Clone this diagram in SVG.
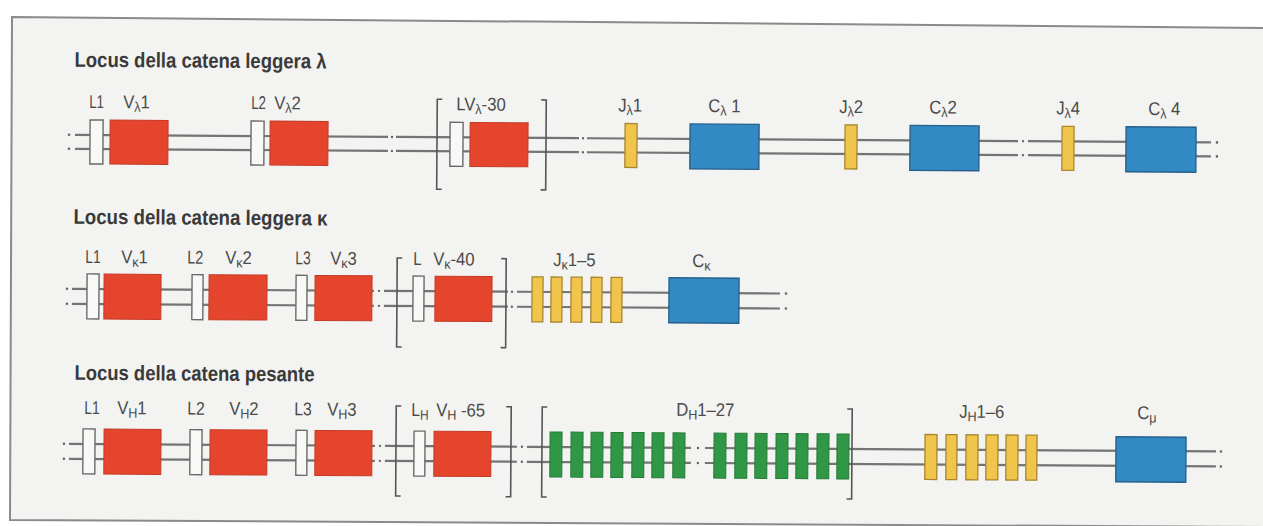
<svg xmlns="http://www.w3.org/2000/svg" width="1263" height="526" viewBox="0 0 1263 526">
<style>
.ln{stroke:#747474;stroke-width:2.2;fill:none}
.dt{fill:#666}
.w{fill:#f8f8f6;stroke:#6a6a6a;stroke-width:1.4}
.r{fill:#e6452d;stroke:#c43a26;stroke-width:1}
.b{fill:#3389c4;stroke:#25618c;stroke-width:1.4}
.y{fill:#f1c44b;stroke:#a8872f;stroke-width:1.3}
.g{fill:#2f9745;stroke:#267a38;stroke-width:1}
.br{stroke:#555;stroke-width:1.6;fill:none}
.lab{font-family:"Liberation Sans",Arial,sans-serif;font-size:18.5px;fill:#4a4a4a}
.sub{font-size:14px}
.ttl{font-family:"Liberation Sans",Arial,sans-serif;font-weight:bold;font-size:21px;fill:#3a3a3a}
</style>
<rect x="0" y="0" width="1263" height="526" fill="#ffffff"/>
<path d="M12,17 L1263,28 L1263,527 L10,520 Z" fill="#f3f3f1" stroke="none"/>
<path d="M1263,28 L12,17 L10,520 L1263,527" fill="none" stroke="#8a8a8a" stroke-width="2"/>
<g transform="rotate(0.38 100 290)">
<g id="titles">
<text class="ttl" x="73" y="67" textLength="252" lengthAdjust="spacingAndGlyphs">Locus della catena leggera λ</text>
<text class="ttl" x="73" y="224" textLength="254" lengthAdjust="spacingAndGlyphs">Locus della catena leggera κ</text>
<text class="ttl" x="75" y="380" textLength="240" lengthAdjust="spacingAndGlyphs">Locus della catena pesante</text>
</g>
<g id="connectors">
<path class="ln" d="M74,135H387M395,135H578M586,135H1017M1027,135H1210M74,149H387M395,149H578M586,149H1017M1027,149H1210"/>
<path class="ln" d="M72,289H374M384,289H508M517,289H780M72,304H374M384,304H508M517,304H780"/>
<path class="ln" d="M70,444H376M386,444H518M528,444H692M706,444H1217M70,459H376M386,459H518M528,459H692M706,459H1217"/>
<g class="dt">
<circle cx="68" cy="135" r="1.3"/><circle cx="68" cy="149" r="1.3"/>
<circle cx="391" cy="135" r="1.2"/><circle cx="391" cy="149" r="1.2"/>
<circle cx="582" cy="135" r="1.2"/><circle cx="582" cy="149" r="1.2"/>
<circle cx="1022" cy="135" r="1.2"/><circle cx="1022" cy="149" r="1.2"/>
<circle cx="1216" cy="135" r="1.3"/><circle cx="1216" cy="149" r="1.3"/>
<circle cx="67" cy="289" r="1.3"/><circle cx="67" cy="304" r="1.3"/>
<circle cx="379" cy="289" r="1.2"/><circle cx="379" cy="304" r="1.2"/>
<circle cx="512" cy="289" r="1.2"/><circle cx="512" cy="304" r="1.2"/>
<circle cx="786" cy="289" r="1.3"/><circle cx="786" cy="304" r="1.3"/>
<circle cx="65" cy="444" r="1.3"/><circle cx="65" cy="459" r="1.3"/>
<circle cx="381" cy="444" r="1.2"/><circle cx="381" cy="459" r="1.2"/>
<circle cx="523" cy="444" r="1.2"/><circle cx="523" cy="459" r="1.2"/>
<circle cx="699" cy="444" r="1.2"/><circle cx="699" cy="459" r="1.2"/>
<circle cx="1222" cy="444" r="1.3"/><circle cx="1222" cy="459" r="1.3"/>
</g>
</g>
<g id="lambda-locus">
<g id="l-L1"><rect class="w" x="89" y="120" width="13" height="44"/><text class="lab" transform="translate(88,108) scale(0.72,1)">L1</text></g>
<g id="l-V1"><rect class="r" x="109" y="120" width="58" height="44"/><text class="lab" transform="translate(122,108) scale(0.9,1)">V<tspan class="sub" dy="3.5">λ</tspan><tspan dy="-3.5">1</tspan></text></g>
<g id="l-L2"><rect class="w" x="250" y="120" width="13" height="44"/><text class="lab" transform="translate(250,108) scale(0.72,1)">L2</text></g>
<g id="l-V2"><rect class="r" x="269" y="120" width="58" height="44"/><text class="lab" transform="translate(273,108) scale(0.9,1)">V<tspan class="sub" dy="3.5">λ</tspan><tspan dy="-3.5">2</tspan></text></g>
<g id="l-V30"><path class="br" d="M441,97H436V187H441M540,97H545V187H540"/><rect class="w" x="449" y="120" width="13" height="44"/><rect class="r" x="469" y="120" width="58" height="44"/><text class="lab" transform="translate(455,108) scale(0.9,1)">LV<tspan class="sub" dy="3.5">λ</tspan><tspan dy="-3.5">-30</tspan></text></g>
<g id="l-J1"><rect class="y" x="624" y="120" width="12" height="44"/><text class="lab" transform="translate(617,108) scale(0.9,1)">J<tspan class="sub" dy="3.5">λ</tspan><tspan dy="-3.5">1</tspan></text></g>
<g id="l-C1"><rect class="b" x="689" y="120" width="69" height="45"/><text class="lab" transform="translate(707,108) scale(0.9,1)">C<tspan class="sub" dy="3.5">λ</tspan><tspan dy="-3.5"> 1</tspan></text></g>
<g id="l-J2"><rect class="y" x="844" y="120" width="12" height="44"/><text class="lab" transform="translate(838,108) scale(0.9,1)">J<tspan class="sub" dy="3.5">λ</tspan><tspan dy="-3.5">2</tspan></text></g>
<g id="l-C2"><rect class="b" x="909" y="120" width="69" height="45"/><text class="lab" transform="translate(928,108) scale(0.9,1)">C<tspan class="sub" dy="3.5">λ</tspan><tspan dy="-3.5">2</tspan></text></g>
<g id="l-J4"><rect class="y" x="1061" y="120" width="12" height="44"/><text class="lab" transform="translate(1055,108) scale(0.9,1)">J<tspan class="sub" dy="3.5">λ</tspan><tspan dy="-3.5">4</tspan></text></g>
<g id="l-C4"><rect class="b" x="1125" y="120" width="70" height="45"/><text class="lab" transform="translate(1147,108) scale(0.9,1)">C<tspan class="sub" dy="3.5">λ</tspan><tspan dy="-3.5"> 4</tspan></text></g>
</g>
<g id="kappa-locus">
<g id="k-L1"><rect class="w" x="87" y="274" width="12" height="45"/><text class="lab" transform="translate(85,263) scale(0.75,1)">L1</text></g>
<g id="k-V1"><rect class="r" x="104" y="274" width="57" height="45"/><text class="lab" transform="translate(121,263) scale(0.9,1)">V<tspan class="sub" dy="3.5">κ</tspan><tspan dy="-3.5">1</tspan></text></g>
<g id="k-L2"><rect class="w" x="192" y="274" width="11" height="45"/><text class="lab" transform="translate(187,263) scale(0.78,1)">L2</text></g>
<g id="k-V2"><rect class="r" x="209" y="274" width="58" height="45"/><text class="lab" transform="translate(225,263) scale(0.9,1)">V<tspan class="sub" dy="3.5">κ</tspan><tspan dy="-3.5">2</tspan></text></g>
<g id="k-L3"><rect class="w" x="296" y="274" width="11" height="45"/><text class="lab" transform="translate(295,263) scale(0.75,1)">L3</text></g>
<g id="k-V3"><rect class="r" x="315" y="274" width="57" height="45"/><text class="lab" transform="translate(330,263) scale(0.9,1)">V<tspan class="sub" dy="3.5">κ</tspan><tspan dy="-3.5">3</tspan></text></g>
<g id="k-V40"><path class="br" d="M402,256H397V345H402M501,256H506V345H501"/><rect class="w" x="413" y="274" width="11" height="45"/><rect class="r" x="435" y="274" width="57" height="45"/><text class="lab" transform="translate(413,263) scale(0.8,1)">L</text><text class="lab" transform="translate(433,263) scale(0.9,1)">V<tspan class="sub" dy="3.5">κ</tspan><tspan dy="-3.5">-40</tspan></text></g>
<g id="k-J"><rect class="y" x="532" y="274" width="11" height="45"/><rect class="y" x="551" y="274" width="11" height="45"/><rect class="y" x="571" y="274" width="11" height="45"/><rect class="y" x="591" y="274" width="11" height="45"/><rect class="y" x="611" y="274" width="11" height="45"/><text class="lab" transform="translate(553,263) scale(0.9,1)">J<tspan class="sub" dy="3.5">κ</tspan><tspan dy="-3.5">1–5</tspan></text></g>
<g id="k-C"><rect class="b" x="669" y="274" width="70" height="45"/><text class="lab" transform="translate(692,263) scale(0.9,1)">C<tspan class="sub" dy="3.5">κ</tspan></text></g>
</g>
<g id="heavy-locus">
<g id="h-L1"><rect class="w" x="84" y="429" width="12" height="45"/><text class="lab" transform="translate(85,414) scale(0.75,1)">L1</text></g>
<g id="h-V1"><rect class="r" x="105" y="429" width="57" height="45"/><text class="lab" transform="translate(118,414) scale(0.9,1)">V<tspan class="sub" dy="3.5">H</tspan><tspan dy="-3.5">1</tspan></text></g>
<g id="h-L2"><rect class="w" x="191" y="429" width="12" height="45"/><text class="lab" transform="translate(188,414) scale(0.85,1)">L2</text></g>
<g id="h-V2"><rect class="r" x="211" y="429" width="57" height="45"/><text class="lab" transform="translate(230,414) scale(0.9,1)">V<tspan class="sub" dy="3.5">H</tspan><tspan dy="-3.5">2</tspan></text></g>
<g id="h-L3"><rect class="w" x="297" y="429" width="11" height="45"/><text class="lab" transform="translate(295,414) scale(0.85,1)">L3</text></g>
<g id="h-V3"><rect class="r" x="316" y="429" width="57" height="45"/><text class="lab" transform="translate(328,414) scale(0.9,1)">V<tspan class="sub" dy="3.5">H</tspan><tspan dy="-3.5">3</tspan></text></g>
<g id="h-V65"><path class="br" d="M402,404H397V494H402M507,404H512V494H507"/><rect class="w" x="415" y="429" width="11" height="45"/><rect class="r" x="435" y="429" width="57" height="45"/><text class="lab" transform="translate(412,414) scale(0.85,1)">L<tspan class="sub" dy="3.5">H</tspan></text><text class="lab" transform="translate(437,414) scale(0.9,1)">V<tspan class="sub" dy="3.5">H</tspan><tspan dy="-3.5"> -65</tspan></text></g>
<g id="h-D"><path class="br" d="M548,404H543V494H548M848,404H853V494H848"/>
<rect class="g" x="551" y="429" width="12" height="45"/><rect class="g" x="572" y="429" width="12" height="45"/><rect class="g" x="592" y="429" width="12" height="45"/><rect class="g" x="612" y="429" width="12" height="45"/><rect class="g" x="633" y="429" width="12" height="45"/><rect class="g" x="653" y="429" width="12" height="45"/><rect class="g" x="674" y="429" width="12" height="45"/>
<rect class="g" x="715" y="429" width="12" height="45"/><rect class="g" x="736" y="429" width="12" height="45"/><rect class="g" x="756" y="429" width="12" height="45"/><rect class="g" x="777" y="429" width="12" height="45"/><rect class="g" x="797" y="429" width="12" height="45"/><rect class="g" x="818" y="429" width="12" height="45"/><rect class="g" x="838" y="429" width="12" height="45"/>
<text class="lab" transform="translate(677,412) scale(0.9,1)">D<tspan class="sub" dy="3.5">H</tspan><tspan dy="-3.5">1–27</tspan></text></g>
<g id="h-J"><rect class="y" x="926" y="429" width="12" height="45"/><rect class="y" x="947" y="429" width="11" height="45"/><rect class="y" x="967" y="429" width="12" height="45"/><rect class="y" x="987" y="429" width="12" height="45"/><rect class="y" x="1007" y="429" width="12" height="45"/><rect class="y" x="1027" y="429" width="11" height="45"/><text class="lab" transform="translate(960,412) scale(0.9,1)">J<tspan class="sub" dy="3.5">H</tspan><tspan dy="-3.5">1–6</tspan></text></g>
<g id="h-C"><rect class="b" x="1117" y="430" width="70" height="45"/><text class="lab" transform="translate(1138,412) scale(0.9,1)">C<tspan class="sub" dy="3.5">μ</tspan></text></g>
</g>
</g>
</svg>
